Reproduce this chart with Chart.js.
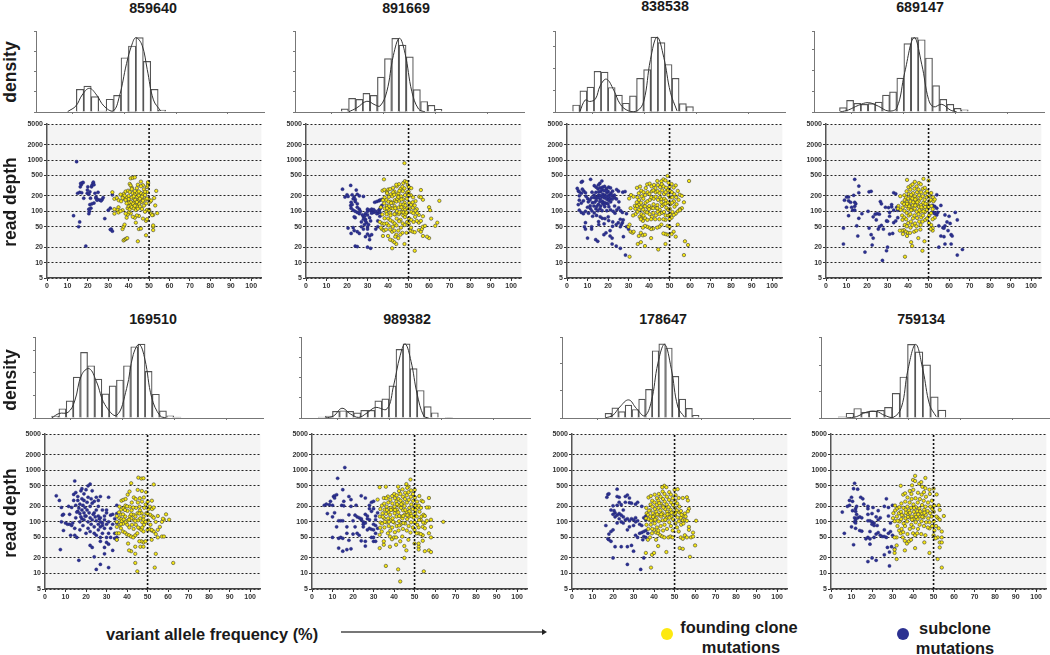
<!DOCTYPE html>
<html>
<head>
<meta charset="utf-8">
<title>variant allele frequency panels</title>
<script src="https://cdn.jsdelivr.net/npm/chart.js@4"></script>
<style>
  html, body { margin: 0; padding: 0; background: #fff; }
  body { position: relative; width: 1050px; height: 655px; overflow: hidden; font-family: "Liberation Sans", Arial, sans-serif; color: #1a1a1a; }
  canvas { position: absolute; }
  .label { position: absolute; font-weight: bold; white-space: nowrap; transform: translate(-50%, -50%); }
  .side { font-size: 17.5px; transform: translate(-50%, -50%) rotate(-90deg); }
  .title { font-size: 14.3px; }
  .note { font-size: 16.4px; }
  .dot { position: absolute; width: 12px; height: 12px; border-radius: 50%; }
</style>
</head>
<body>
<script>
// Panel names, in reading order
const sampleNames = ['859640', '891669', '838538', '689147', '169510', '989382', '178647', '759134'];

const xTicks = [0, 10, 20, 30, 40, 50, 60, 70, 80, 90, 100];
const depthTicks = [5, 10, 20, 50, 100, 200, 500, 1000, 2000, 5000];
const histXTicks = [0, 25, 50, 75, 100];

// Histogram bin centres and heights, density curve as [vaf, density]
const bins1 = [16, 19.6, 23.2, 26.8, 30.4, 34, 37.6, 41.2, 44.8, 48.4, 52, 55.6];
const heights1 = [1.12, 1.28, 0.76, 0.05, 0.63, 0.82, 2.68, 3.26, 3.67, 2.5, 1.12, 0.1];
const curve1 = [[10, 0.02], [14, 0.3], [17, 0.84], [20.5, 1.17], [24, 0.84], [27.5, 0.3], [32, 0.05], [35, 0.76], [38.5, 2.4], [41, 3.3], [43, 3.67], [46, 3.3], [48.5, 2.1], [51.5, 0.6], [55, 0.05]];
const bins2 = [18.7, 22.2, 25.7, 29.1, 32.6, 36.1, 39.5, 43, 46.5, 50, 53.4, 56.9, 60.4, 63.8];
const heights2 = [0.16, 0.67, 0.62, 0.92, 0.82, 1.72, 2.64, 3.64, 3.3, 2.72, 1.11, 0.52, 0.33, 0.13];
const curve2 = [[20.4, 0], [24.4, 0.2], [29.3, 0.53], [33.3, 0.35], [35.7, 0.3], [38.9, 1], [42.1, 2.8], [45, 3.64], [47.7, 2.9], [51, 1], [54.2, 0.15], [57.4, 0]];
const bins3 = [4.4, 7.9, 11.3, 14.7, 18.1, 21.5, 25, 28.4, 31.8, 35.2, 38.6, 42.1, 45.5, 48.9, 52.3, 55.8, 59.2];
const heights3 = [0.32, 0.97, 1.14, 1.86, 1.82, 1.12, 0.77, 0.4, 0.74, 1.54, 1.94, 3.42, 3.17, 2.17, 1.54, 0.38, 0.25];
const curve3 = [[6.1, 0], [8.8, 0.55], [10.9, 0.48], [13.7, 0.6], [16, 1.2], [19, 1.5], [22.5, 1], [25.7, 0.35], [29.7, 0.05], [33.8, 0.05], [37, 0.5], [40.2, 2.4], [43.4, 3.42], [46.6, 2.5], [49.8, 0.9], [53, 0.05]];
const bins4 = [8.2, 11.6, 15.1, 18.5, 22, 25.4, 28.9, 32.3, 35.8, 39.2, 42.7, 46.1, 49.6, 53, 56.5, 59.9, 63.4, 66.8];
const heights4 = [0.21, 0.56, 0.42, 0.37, 0.4, 0.48, 0.81, 0.97, 1.63, 3.29, 3.58, 3.48, 2.6, 1.27, 0.61, 0.37, 0.18, 0.11];
const curve4 = [[6.8, 0], [10.8, 0.1], [15.6, 0.32], [20.4, 0.45], [25.2, 0.28], [30, 0.05], [34.1, 0.2], [37.9, 1.9], [42.4, 3.58], [46.1, 2.3], [49.4, 0.6], [51.8, 0.25], [55.8, 0.37], [59.8, 0.1], [63, 0]];
const bins5 = [4.9, 8.4, 11.9, 15.3, 18.8, 22.2, 25.7, 29.2, 32.6, 36.1, 39.5, 43, 46.5, 49.9, 53.4, 56.8, 60.3, 63.8];
const heights5 = [0.09, 0.41, 0.76, 1.81, 2.9, 2.31, 1.72, 1.07, 1.42, 1.68, 2.31, 3.15, 3.27, 2.06, 1.05, 0.32, 0.1, 0.04];
const curve5 = [[3.2, 0], [6.8, 0.2], [11.1, 0.25], [14.3, 0.75], [17.6, 1.9], [21.3, 2.18], [24.8, 1.6], [28.8, 0.6], [34.5, 0.12], [39.3, 1.3], [42.5, 2.8], [45.4, 3.25], [48.1, 2.6], [51.4, 0.9], [55.4, 0.1], [58.6, 0]];
const bins6 = [4.75, 8.15, 11.55, 14.95, 18.35, 21.75, 25.15, 28.55, 31.95, 35.35, 38.75, 42.15, 45.55, 48.95, 52.35, 55.75, 59.15, 62.55, 65.95];
const heights6 = [0.05, 0.1, 0.33, 0.36, 0.33, 0.25, 0.38, 0.38, 0.85, 0.95, 1.59, 3.39, 3.66, 2.44, 1.36, 0.56, 0.26, 0, 0.03];
const curve6 = [[6.4, 0], [10.4, 0.1], [14.4, 0.48], [18.5, 0.2], [22.5, 0.03], [26.5, 0.25], [30.5, 0.52], [36.1, 0.45], [39.3, 1.6], [42.5, 3.1], [44.9, 3.66], [47.7, 2.8], [50.6, 1.2], [53.8, 0.1], [56.2, 0]];
const bins7 = [17.5, 20.8, 24, 27.2, 30.5, 33.7, 37, 40.2, 43.4, 46.7, 49.9, 53.2, 56.4, 59.6];
const heights7 = [0.17, 0.37, 0.23, 0.47, 0.31, 0.69, 1.04, 2.45, 2.7, 2.55, 1.52, 0.69, 0.35, 0.1];
const curve7 = [[15.9, 0], [19.7, 0.1], [23, 0.4], [27.3, 0.66], [31, 0.35], [35, 0.08], [38.2, 0.6], [41.4, 2], [44.6, 2.68], [47.8, 1.8], [51, 0.4], [54.2, 0.03]];
const bins8 = [5.4, 9.1, 12.8, 16.5, 20.2, 23.9, 27.6, 31.3, 35, 38.7, 42.4, 46.1, 49.8, 53.5];
const heights8 = [0.04, 0.18, 0.36, 0.21, 0.26, 0.29, 0.4, 0.93, 1.55, 2.78, 2.5, 2.01, 0.8, 0.3];
const curve8 = [[7.4, 0], [12.2, 0.05], [17, 0.22], [21.8, 0.25], [25.8, 0.1], [29.9, 0.02], [33.9, 0.4], [37, 1.8], [40.8, 2.78], [44.3, 1.8], [47.5, 0.5], [50.7, 0.05]];
const histMax = [4, 4, 3.7, 3.9, 3.58, 4, 2.95, 3.06];

// Subclone and founding clone mutations, [vaf, read depth]
const sub1 = [[14.5,930],[15,225],[16,235],[17,230],[16.3,300],[16.8,330],[17.3,360],[16.5,350],[17.7,365],[18,180],[20,300],[19.8,260],[19.7,225],[20.5,215],[21,240],[21.3,180],[21.8,300],[22,320],[22.5,350],[22.7,370],[23,330],[23.5,225],[24,190],[24,180],[25,235],[25,170],[26,165],[27,170],[27.5,185],[26.5,160],[24.5,165],[23,145],[22,140],[21,135],[21.5,115],[20.5,110],[20.5,90],[13,82],[16,62],[15.5,50],[19,21],[28.3,72],[30,105],[31,115],[31.5,45],[32,41],[31,44],[32,210],[20.8,100]];
const found1 = [[32,235],[33,175],[34.2,183],[35.1,164],[36.3,157],[37,205],[37.6,218],[38.2,171],[38.5,243],[39.1,188],[39.7,252],[40,199],[40.2,158],[40.5,342],[41,318],[41.6,287],[42,226],[42.3,178],[42.5,149],[43,212],[43.2,167],[43.5,134],[44,233],[44.2,191],[44.6,158],[45,203],[45.2,139],[45.5,124],[46,228],[46.3,179],[46.6,151],[47,322],[47.2,214],[47.5,129],[48,207],[48.2,172],[48.6,143],[49,298],[49.1,238],[49.5,352],[49.4,318],[50,166],[50.5,153],[51,162],[52.5,182],[53.5,250],[53,130],[54,92],[52,85],[51,90],[50,103],[49,106],[48,98],[47,72],[48.5,65],[49,70],[46.5,111],[45,81],[44,83],[43,75],[42,78],[41,91],[40,94],[39.5,86],[38.5,90],[37,105],[35,120],[34.5,106],[33,110],[33,90],[35,95],[36,101],[39,75],[39.5,115],[40,126],[40.5,109],[41,131],[41.5,121],[42,142],[42.5,114],[43.5,106],[44,124],[44.5,112],[45,168],[40,173],[38,202],[37,182],[41,152],[43,248],[44,283],[45,244],[46,308],[47.5,268],[48,241],[41,440],[42,450],[43,460],[44.5,330],[46,380],[49.5,370],[37,45],[37.5,50],[38,55],[43.5,60],[45,45],[46,46],[48.5,34],[52,43],[52,50],[52,53],[44.5,26],[37.5,27],[38,28],[38.7,29],[39.3,30],[40,146],[39,143],[38.5,166],[36,212],[41.5,187],[42.5,196],[46.5,193],[47,161],[49,178],[44,152],[43,128],[45.5,176],[40.5,238],[50,107],[51.5,84],[41.5,272]];

const sub2 = [[17.8,270],[19,190],[20,210],[20.5,195],[21.8,320],[22.5,210],[23.5,190],[24.5,260],[24,170],[25,215],[26,200],[28,195],[22,150],[21.8,130],[22,115],[23,175],[24,155],[25,140],[23,105],[24,100],[25,95],[26,90],[26,110],[24,75],[23.5,78],[28,78],[29,90],[30,100],[29,70],[29.5,60],[28.5,55],[30,50],[30.5,55],[31,75],[31.5,65],[32,100],[32,110],[33,95],[33,108],[34,100],[35,92],[35.5,105],[34.5,90],[33.5,150],[34.5,155],[35.5,160],[36,165],[37,170],[36.5,120],[36,80],[35,65],[35,50],[34,45],[20.5,47],[22,37],[23.5,42],[25,40],[26,37],[27,50],[28,45],[29,32],[30,36],[31,33],[32,35],[31,28],[24,21],[25,20.5],[30,20],[31.5,19],[23,48],[27,62],[28,70],[30,85],[32,92],[31,105],[30,110],[36,110],[36,95],[37,130],[29,65],[28.5,80],[30,45],[27.5,85],[22.5,135],[25,120],[26.5,100]];
const found2 = [[48,870],[38,420],[56,260],[65,160],[60,120],[60.5,105],[61,72],[64,60],[63,52],[60,30],[59,32],[57,33],[53,17],[48,23],[42,19],[44,23],[43,25],[42,27],[41,28],[45,30],[47,38],[49,38],[51,42],[52,40],[53,39],[55,43],[56,40],[56.5,45],[57,50],[58,52],[55,60],[54,65],[56,65],[57,80],[55,85],[54,110],[37.3,252],[38.2,263],[39.4,238],[40.1,266],[41.3,214],[42.4,287],[43.1,243],[44.2,307],[45.3,338],[46.1,274],[47.4,356],[48.2,388],[49.1,372],[49.6,327],[50.2,296],[51.3,283],[51.1,206],[52.2,187],[53.4,158],[55.2,193],[57,168],[56,188],[38.3,186],[39.2,166],[40.4,191],[41.2,154],[42.1,196],[43.3,164],[44.4,211],[45.1,226],[46.4,196],[47.2,246],[48.3,207],[49.3,235],[50.1,204],[38.1,143],[39.4,127],[40.2,154],[41.4,116],[42.3,146],[43.2,126],[44.1,155],[45.4,161],[46.2,136],[47.3,172],[48.1,147],[49.2,176],[50.3,146],[51.2,134],[52.1,117],[53.3,103],[54.2,92],[38.4,113],[39.1,97],[40.3,108],[41.1,92],[42.4,113],[43.4,87],[44.3,101],[45.2,119],[46.3,97],[47.1,112],[48.4,108],[49.4,116],[50.4,113],[51.4,97],[52.3,92],[53.2,78],[37.2,87],[38.3,73],[39.3,88],[40.1,72],[41.2,83],[42.2,63],[43.1,88],[44.2,72],[45.3,88],[46.1,68],[47.4,83],[48.2,77],[49.1,93],[50.2,73],[51.3,68],[52.4,62],[37.1,58],[38.2,57],[39.4,58],[40.3,53],[41.1,67],[42.3,50],[43.2,58],[44.1,53],[45.4,64],[46.3,48],[47.2,58],[48.1,54],[49.3,62],[50.1,57],[51.2,48],[37,45],[38,42],[39,44],[37.5,33],[40,33],[42,40],[43,42],[44,35],[45,42],[46,35],[43.5,32],[41,44],[39.5,225],[42.5,235],[44.5,175],[46.5,170],[47.5,135],[48.5,130],[43.5,115],[41.5,145],[40.5,125],[45.5,95],[46.5,120],[47.5,95],[48.5,88],[39.5,115],[37.5,165],[36.5,120],[36,62],[36.5,48],[44,330],[45.5,250],[47,300],[48,280],[50,240],[52,150],[53,130],[41,270],[43,210],[45,190],[49,95]];

const sub3 = [[7.5,385],[7,370],[11.5,420],[17,390],[16,350],[5,280],[5.5,250],[6,240],[7,225],[5.5,135],[6,105],[7,95],[8,90],[9,100],[9,60],[8.5,50],[9,45],[10,30],[12,45],[12,50],[14,28],[15,26],[19,38],[18,35],[21,42],[21,33],[22,23],[24,21],[26,19],[28.5,14],[27.5,32],[22,30],[26,50],[27,60],[29,90],[27,95],[26,70],[25,60],[24,55],[8.2,247],[9.3,196],[10.1,176],[10.4,153],[11.2,167],[11.3,128],[11.4,113],[12.2,236],[12.4,147],[12.1,102],[13.3,316],[13.2,206],[13.4,184],[13.1,127],[13.3,93],[14.2,296],[14.1,234],[14.4,187],[14.3,163],[14.1,112],[14.4,83],[15.3,326],[15.1,274],[15.4,207],[15.2,184],[15.3,137],[15.1,103],[15.4,63],[16.2,287],[16.4,243],[16.1,202],[16.3,174],[16.4,127],[16.1,113],[16.2,78],[17.3,296],[17.1,264],[17.4,217],[17.2,193],[17.3,157],[17.4,143],[17.1,103],[17.2,73],[18.3,306],[18.1,254],[18.4,206],[18.2,183],[18.3,147],[18.4,123],[18.1,57],[19.2,276],[19.4,233],[19.1,197],[19.3,173],[19.2,143],[19.4,103],[20.3,296],[20.1,243],[20.4,207],[20.2,187],[20.3,164],[20.4,123],[20.1,78],[21.2,286],[21.4,224],[21.1,177],[21.3,153],[21.2,107],[20.3,66],[22.2,247],[22.4,197],[22.1,173],[22.3,62],[22.2,51],[23.1,207],[23.3,183],[23.2,127],[23.4,92],[24.2,266],[24.1,174],[24.3,107],[25.1,247],[25.3,153],[25.2,117],[26.1,103],[27.2,236],[28.3,243],[27.4,68],[26.5,55],[29,50],[30,45],[22.5,100],[18.5,72],[15.5,55],[12.5,80],[10.5,92],[8,160],[7,145],[6,165],[6,200],[7.5,270],[9,230],[10,120],[12,185],[16,155],[18,135],[20,140],[14.5,125],[13.5,150],[15.5,240],[19.5,250],[21.5,205]];
const found3 = [[59.5,390],[57.5,26],[59,22],[57,14],[30.5,13],[44.5,18],[48,23],[38,21],[34.5,23],[36,25],[31,40],[32,38],[30,50],[30.5,55],[32.5,40],[54,55],[49,490],[47,420],[48,400],[46,385],[44,390],[49.5,360],[51,340],[53,320],[50,300],[52,290],[54,250],[55,210],[56,200],[57,150],[56,115],[55,110],[54,100],[53,90],[52,85],[51,75],[50,70],[49,52],[50,50],[48,68],[47,70],[52,40],[51,36],[49,35],[53,32],[48,36],[47,37],[46,55],[45,50],[44,48],[42,46],[41,45],[40,48],[39,50],[38,52],[37,48],[36,38],[37,34],[35,33],[41,30],[38,35],[30.3,178],[31.2,208],[32.4,193],[33.1,128],[33.3,112],[33.4,88],[32.2,83],[34.1,287],[35.6,304],[36.2,252],[37.3,236],[38.4,284],[39.1,335],[40.3,347],[41.2,306],[42.4,327],[43.1,284],[44.3,326],[45.4,296],[46.2,337],[47.1,306],[48.3,287],[49.2,256],[50.4,247],[51.1,236],[52.3,216],[53.2,187],[54.4,167],[34.3,187],[35.1,167],[36.4,197],[37.2,176],[38.1,207],[39.3,236],[40.2,217],[41.4,247],[42.1,256],[43.3,236],[44.2,246],[45.1,226],[46.4,256],[47.3,217],[48.1,236],[49.4,207],[50.2,186],[51.3,187],[52.1,157],[53.4,137],[34.2,127],[35.3,137],[36.1,147],[37.4,127],[38.3,147],[39.2,157],[40.4,167],[41.1,187],[42.3,176],[43.2,192],[44.4,167],[45.3,187],[46.1,172],[47.4,176],[48.2,162],[49.1,147],[50.3,137],[51.2,147],[52.4,123],[34.4,98],[35.2,108],[36.3,88],[37.1,108],[38.2,98],[39.4,117],[40.1,127],[41.3,117],[42.2,137],[43.4,117],[44.1,132],[45.2,107],[46.3,127],[47.2,137],[48.4,117],[49.3,107],[50.1,112],[51.4,97],[35.4,78],[36.2,73],[37.3,83],[38.1,73],[39.2,68],[40.3,88],[41.4,78],[42.1,93],[43.3,83],[44.2,98],[45.1,88],[46.4,93],[47.3,97],[48.1,83],[49.4,83],[50.2,88],[39,95],[41,70],[43,70],[45,70],[37,65],[36,70],[55,105],[40,110],[42,115],[44,115],[38,125],[36,120],[46,150],[48,140],[35,225],[34,150],[31,115]];

const sub4 = [[14,420],[16,310],[16,230],[21,240],[22,245],[33,230],[34,220],[10,190],[11,190],[9,165],[11,160],[12,150],[13.5,205],[14,150],[14.5,140],[14,125],[12.5,120],[10,120],[13,105],[14,105],[11,82],[16,73],[17.5,90],[20.5,100],[23,78],[24,88],[25,90],[26,88],[24.5,68],[26,50],[25.5,45],[27,53],[28,45],[15,52],[21,47],[22,35],[23,30],[8.5,47],[15.5,33],[8.5,23],[22.5,22],[19,16],[27.5,11],[29.5,17],[30,20],[31,36],[32.5,37],[29.5,65],[30,64],[30.5,118],[31,80],[32,122],[32,135],[33,105],[33,60],[34,65],[35,105],[35,75],[26.5,155],[27,140],[54,210],[52,130],[53,125],[54,115],[52.5,95],[53,90],[54,85],[54.5,95],[56,130],[58,85],[60,80],[59,62],[60.5,58],[63,95],[64,68],[55,52],[57,48],[58,52],[57.5,47],[56,33],[57.5,32],[59.5,42],[61,35],[61.5,33],[58,23],[61,23],[55,20],[64,14],[66.5,18],[29,120],[31,95],[34.5,120]];
const found4 = [[39.5,410],[47.5,430],[50,400],[38.5,13],[47,17],[42,21],[41.5,25],[48,26],[45,30],[38,43],[37,42],[36,42],[39,40],[40,38],[41,38],[43,40],[44,42],[46,44],[52,42],[52,47],[37.5,36],[39.5,33],[36.2,197],[35.3,127],[35.1,113],[36.4,107],[37.2,147],[37.4,118],[37.1,83],[37.3,68],[38.2,206],[38.4,166],[38.1,138],[38.3,102],[38.2,76],[38.4,54],[39.3,246],[39.1,186],[39.4,152],[39.2,127],[39.3,93],[39.1,70],[39.4,51],[40.2,296],[40.4,216],[40.1,178],[40.3,136],[40.2,113],[40.4,83],[40.1,59],[41.3,316],[41.1,264],[41.4,186],[41.2,156],[41.3,123],[41.1,88],[41.4,63],[41.2,48],[42.2,336],[42.4,226],[42.1,178],[42.3,132],[42.2,107],[42.4,73],[42.1,54],[43.3,376],[43.1,276],[43.4,196],[43.2,153],[43.3,113],[43.1,83],[43.4,58],[44.2,306],[44.4,236],[44.1,177],[44.3,133],[44.2,98],[44.4,74],[44.1,51],[45.3,356],[45.1,266],[45.4,206],[45.2,157],[45.3,123],[45.1,88],[45.4,63],[46.2,336],[46.4,236],[46.1,178],[46.3,132],[46.2,98],[46.4,76],[46.1,54],[47.3,276],[47.1,197],[47.4,147],[47.2,117],[47.3,83],[47.1,63],[48.2,287],[48.4,226],[48.1,167],[48.3,122],[48.2,97],[48.4,68],[49.3,246],[49.1,187],[49.4,137],[49.2,107],[49.3,73],[50.2,197],[50.4,157],[50.1,122],[50.3,83],[50.2,59],[51.3,227],[51.1,167],[51.4,127],[51.2,92],[51.3,54],[52.2,187],[52.4,157],[53,170],[52,110],[53,75],[52,70],[51,45],[43.5,130],[44.5,150],[42.5,150],[41.5,105],[40.5,125],[39.5,140],[46.5,120],[47.5,100],[48.5,140],[45.5,105],[43.5,170],[41.5,210]];

const sub5 = [[14.5,620],[5.5,320],[7,260],[7.5,29],[16.5,18],[24,21],[25,12],[27,15],[31,13],[29,24],[11.5,200],[8,190],[8.5,135],[9,140],[8,100],[9,68],[10,95],[11,90],[12,140],[12,90],[13,85],[12.5,55],[13,190],[14,260],[14,340],[15,370],[15,210],[15,120],[14.5,75],[14.5,55],[15.5,50],[16,160],[16,260],[16,310],[16.5,185],[17,220],[17,145],[17,100],[17,70],[17.5,400],[18,170],[18,280],[18,440],[18,115],[18.5,210],[18.5,85],[19,150],[19,350],[19,260],[19,110],[19.5,190],[20,130],[20,420],[20,60],[20.5,170],[20.5,240],[21,100],[21,300],[21,500],[21,75],[21.5,150],[22,540],[22,120],[22,200],[22,65],[22.5,280],[22.5,90],[22,35],[23,110],[23,230],[23,400],[23,32],[24,150],[24,250],[24,80],[24,60],[25,105],[25,170],[25,300],[25,55],[26,90],[26,70],[26,200],[26,260],[26,130],[27,100],[27,120],[27,310],[27,80],[27,50],[27,42],[28,85],[28,170],[28,95],[28,60],[29,110],[29,130],[29,75],[29,32],[30,150],[30,170],[30,90],[30,50],[30,40],[31,300],[31,100],[31,60],[31,37],[32,135],[32,75],[32,50],[33,140],[33,90],[33,28],[34,115],[34,60],[35,210],[35,145],[35,95],[35,50],[35,45],[34,48],[23.5,140],[17.5,125],[19.5,130],[15.5,155],[13.5,95],[26.5,115],[24.5,125]];
const found5 = [[45.5,720],[47,690],[48,700],[53,530],[42,560],[62.5,16],[45,11],[44,16],[53.5,13],[54,24],[44,24],[42,27],[41,28],[40.5,38],[44,33],[46.5,33],[48,40],[49,42],[47,42],[46,42],[52,45],[48,33],[52,68],[53,65],[55,70],[56,80],[54,58],[55,50],[57,52],[58,52],[59,140],[58,110],[57,100],[60.5,110],[57.5,115],[35,45],[35,60],[36,60],[37,75],[38,65],[39,62],[40,57],[41,55],[42,52],[43,50],[44,55],[45,60],[46,75],[47,70],[48,65],[50,70],[51,72],[52,70],[36.2,118],[36.4,88],[36.1,153],[36.3,197],[37.2,113],[37.4,103],[37.1,138],[37.3,257],[37.2,173],[38.4,112],[38.1,92],[38.3,183],[38.2,267],[39.4,98],[39.1,127],[39.3,277],[39.2,207],[40.1,88],[40.4,107],[40.2,163],[40.3,337],[41.4,127],[41.1,78],[41.3,197],[41.2,387],[42.1,117],[42.4,88],[42.2,167],[42.3,237],[43.4,107],[43.1,137],[43.3,297],[43.2,73],[44.1,127],[44.4,187],[44.2,277],[44.3,88],[45.4,107],[45.1,147],[45.3,237],[45.2,417],[45.4,78],[46.1,197],[46.4,117],[46.2,287],[46.3,167],[47.4,98],[47.1,147],[47.3,247],[47.2,397],[47.4,78],[48.1,127],[48.4,187],[48.2,297],[48.3,88],[49.4,147],[49.1,217],[49.3,377],[50.2,107],[50.4,177],[50.1,247],[51.3,137],[51.1,197],[51.4,88],[52.2,177],[52.4,127],[52.1,257],[53,190],[53,120],[54,100],[55,130],[35,100],[35,80],[35,130],[38,140],[40,200],[42,140],[44,105],[46,145],[48,110],[50,145],[49,100],[43,190],[41,110],[39,170],[37,90]];

const sub6 = [[16,1130],[12.5,700],[15,420],[6,210],[7,220],[9,250],[8.5,215],[10,210],[10.5,310],[11,320],[12,335],[11,290],[14.5,210],[15.5,250],[15.5,205],[18,310],[19,270],[19,200],[21.5,210],[24,320],[26,290],[7.5,145],[10,125],[11,150],[13,105],[14,105],[15,105],[12,80],[13,48],[14,50],[15,48],[10,50],[17,80],[17,60],[18,44],[18,137],[20,105],[21,135],[22,125],[23,120],[24,110],[25,100],[25,90],[26,95],[26,140],[27,130],[27,115],[22,60],[23,55],[24,43],[26,42],[26,34],[27,70],[28,75],[28,110],[28,180],[28,210],[29,160],[29,240],[30,250],[30,180],[29,72],[30,90],[30,70],[31,85],[31,110],[31,130],[31,60],[30,50],[30,42],[31,42],[13,31],[15,27],[17,29],[19,30],[20,58],[29,50],[32,150],[32,75],[24,115],[25,80],[21,80]];
const found6 = [[48,660],[46,540],[47,480],[42,480],[33,470],[36,480],[32,270],[35,290],[37,310],[64,100],[58,110],[57,290],[57,190],[58,50],[56,190],[58,80],[57,60],[54,55],[54,43],[52,33],[52,29],[55,27],[57,28],[58,26],[52,38],[50,38],[47,45],[46,28],[45,34],[43,42],[41,36],[38,33],[33,31],[35,36],[36,14],[42,12],[43,7],[54.5,11],[45,20],[33,56],[34,65],[35,42],[37,60],[38,52],[39,46],[40,50],[41,50],[44,52],[48,62],[50,70],[52,78],[54,80],[55,95],[56,105],[53,110],[33.2,77],[33.4,97],[33.1,127],[33.3,177],[34.2,93],[34.4,147],[34.1,207],[35.3,78],[35.1,118],[35.4,172],[35.2,226],[36.3,98],[36.1,143],[36.4,197],[36.2,287],[37.4,83],[37.1,117],[37.3,157],[37.2,237],[38.2,68],[38.4,107],[38.1,137],[38.3,187],[38.2,267],[39.1,78],[39.3,117],[39.4,173],[39.2,227],[39.1,317],[40.4,63],[40.1,97],[40.3,147],[40.2,197],[40.4,287],[40.1,347],[41.3,83],[41.2,127],[41.4,172],[41.1,247],[41.3,327],[42.2,68],[42.4,103],[42.1,153],[42.3,207],[42.2,277],[42.4,397],[43.1,88],[43.3,127],[43.4,187],[43.2,257],[43.1,347],[44.3,73],[44.1,117],[44.4,167],[44.2,233],[44.3,307],[44.1,427],[45.4,93],[45.2,137],[45.1,203],[45.3,277],[45.4,367],[46.2,68],[46.4,113],[46.1,157],[46.3,237],[46.2,327],[46.4,457],[47.1,83],[47.3,127],[47.4,187],[47.2,267],[47.1,377],[48.3,98],[48.1,147],[48.4,217],[48.2,307],[48.3,407],[49.2,78],[49.4,122],[49.1,177],[49.3,257],[49.2,347],[50.1,98],[50.3,147],[50.4,207],[50.2,297],[50.1,417],[51.3,88],[51.1,127],[51.4,187],[51.2,247],[52.2,108],[52.4,157],[52.1,207],[52.3,317],[53.3,127],[53.1,187],[53.4,257],[54.2,97],[54.4,137],[54.1,247],[55,130],[55,75],[52,60],[51,60],[53,58],[44.5,130],[42.5,130],[40.5,170],[38.5,170],[36.5,170],[34.5,125],[46.5,135],[48.5,130],[50.5,170],[43.5,220],[41.5,220],[45.5,170],[47.5,160],[39.5,100],[37.5,100],[35.5,100],[42.5,85],[44.5,95]];

const sub7 = [[17,300],[17.5,340],[18,350],[22,430],[20,205],[22,210],[23,240],[24,215],[22,310],[23,300],[25,170],[26,310],[27,330],[28,290],[26,240],[28,235],[29,230],[31,220],[32,240],[34,200],[20,140],[21,125],[21,150],[22,135],[23,145],[24,135],[23,115],[22,95],[24,100],[25,125],[26,110],[27,115],[28,105],[29,115],[30,110],[31,100],[31,120],[32,105],[33,90],[34,85],[35,120],[36,110],[25,95],[28,80],[27,70],[30,85],[16.5,85],[18,58],[19,65],[20,70],[17.5,47],[18,45],[19,42],[21,33],[24,33],[27,33],[29,35],[30,27],[31,55],[32,50],[33,60],[34,62],[35,65],[36,68],[35,52],[34.5,45],[36,50],[37,60],[20,20],[27,15],[33.5,12],[35,20],[19,170],[20.5,165],[36,130]];
const found7 = [[45,500],[46,470],[44,470],[50,420],[51.5,430],[50.5,330],[52,290],[54,290],[56,300],[56.5,260],[60.5,105],[57,180],[56.5,160],[55,145],[54,130],[53,120],[57,80],[57,70],[59,62],[60,35],[57.5,21],[55,55],[58,50],[59,52],[56,50],[53,50],[54,47],[52.5,31],[54,30],[46,26],[42,34],[38.5,13],[36,25],[39,23],[40,25],[41,45],[37,45],[38,50],[39,60],[40,70],[41,62],[42,60],[43,55],[44,52],[45,50],[47,50],[48,52],[49,50],[52,65],[36.3,88],[36.1,117],[36.4,147],[36.2,187],[37.2,73],[37.4,112],[37.1,137],[37.3,297],[38.4,88],[38.2,127],[38.1,167],[38.3,217],[38.4,317],[39.1,73],[39.3,107],[39.4,147],[39.2,197],[39.1,257],[40.3,93],[40.1,132],[40.4,177],[40.2,237],[40.3,337],[41.4,78],[41.2,117],[41.1,157],[41.3,212],[41.4,287],[42.1,68],[42.3,102],[42.4,137],[42.2,187],[42.1,257],[42.3,347],[43.2,83],[43.4,127],[43.1,167],[43.3,227],[43.2,307],[44.4,68],[44.2,107],[44.1,147],[44.3,202],[44.4,277],[44.2,387],[45.1,88],[45.3,132],[45.4,177],[45.2,247],[45.1,347],[46.3,73],[46.1,117],[46.4,157],[46.2,217],[46.3,307],[47.4,98],[47.2,142],[47.1,192],[47.3,267],[47.4,377],[48.2,83],[48.4,127],[48.1,172],[48.3,237],[48.2,337],[49.1,68],[49.3,112],[49.4,152],[49.2,212],[49.1,287],[50.4,93],[50.2,137],[50.1,187],[50.3,257],[51.2,78],[51.4,122],[51.1,167],[51.3,227],[52.1,103],[52.3,152],[52.4,197],[53.2,88],[53.4,137],[53.1,162],[54.3,93],[54.1,107],[55.2,108],[55.4,127],[56,105],[43.5,140],[41.5,140],[39.5,125],[37.5,165],[45.5,110],[47.5,120],[44.5,190],[42.5,230],[46.5,140],[48.5,150],[40.5,110],[38.5,105],[50.5,150]];

const sub8 = [[11.5,560],[11,440],[13,430],[14.5,300],[15.5,280],[10,300],[9,260],[10.5,250],[5.5,155],[8,200],[9,210],[10.5,165],[12,180],[12.5,200],[12,160],[12.5,140],[16,220],[18,200],[18,180],[20.5,190],[20,145],[18,140],[23,165],[24,120],[23,110],[22,125],[27,280],[26,200],[28,190],[28,130],[11.5,120],[13,120],[14,125],[15,120],[12,110],[11.5,100],[12,95],[10,80],[12,75],[6.5,60],[14,68],[15,66],[18,105],[19,105],[20,100],[21,95],[20,90],[21,85],[22.5,85],[19,65],[21,50],[18,50],[17,47],[19,47],[22,58],[23,62],[24,55],[25,52],[26,70],[27,50],[26,52],[28,60],[29,65],[30,55],[11,36],[19,37],[27.5,32],[29.5,33],[28.5,26],[26,23],[20,20],[22,18],[18,17],[28.5,14],[31,30],[30,210],[29,95]];
const found8 = [[41,780],[40,650],[41,620],[46,710],[34,500],[39.5,510],[43,550],[44,590],[44.5,480],[46,450],[48,420],[50,440],[51.5,340],[52.5,210],[55,130],[53,170],[52,120],[53,110],[52.5,75],[54,65],[52,50],[54,50],[53,40],[54,40],[53,32],[54,13],[52,19],[48,25],[45.5,40],[41,31],[36,28],[32,19],[31,25],[31,29],[32,35],[32,50],[31,50],[34,60],[35,50],[36,43],[37,38],[38,42],[39,45],[40,60],[41,55],[42,60],[44,58],[46,55],[48,75],[50,55],[51,48],[30.2,118],[30.4,147],[31.1,103],[31.3,167],[31.2,207],[32.4,83],[32.1,127],[32.3,182],[33.2,68],[33.4,102],[33.1,147],[33.3,192],[34.4,73],[34.2,113],[34.1,157],[34.3,227],[35.2,63],[35.4,93],[35.1,132],[35.3,187],[35.2,337],[36.1,83],[36.3,117],[36.4,172],[36.2,247],[36.1,357],[37.3,58],[37.1,102],[37.4,142],[37.2,197],[37.3,297],[38.4,73],[38.2,122],[38.1,167],[38.3,237],[38.4,397],[39.2,88],[39.4,127],[39.1,187],[39.3,277],[39.2,347],[40.1,78],[40.3,113],[40.4,157],[40.2,217],[40.1,417],[41.3,98],[41.1,137],[41.4,192],[41.2,287],[42.4,73],[42.2,113],[42.1,162],[42.3,237],[42.4,367],[43.2,88],[43.4,127],[43.1,182],[43.3,277],[44.1,103],[44.3,147],[44.4,212],[44.2,337],[45.3,83],[45.1,122],[45.4,172],[45.2,257],[45.3,377],[46.4,98],[46.2,137],[46.1,197],[46.3,307],[47.2,78],[47.4,117],[47.1,162],[47.3,237],[48.1,98],[48.3,147],[48.4,197],[48.2,347],[49.3,83],[49.1,127],[49.4,177],[49.2,257],[50.4,68],[50.2,103],[50.1,157],[50.3,207],[51.2,83],[51.4,127],[37.5,125],[39.5,110],[41.5,125],[43.5,160],[45.5,150],[40.5,185],[42.5,140],[44.5,125],[36.5,150],[34.5,135],[32.5,105],[38.5,150]];

const histBins = [bins1, bins2, bins3, bins4, bins5, bins6, bins7, bins8];
const histHeights = [heights1, heights2, heights3, heights4, heights5, heights6, heights7, heights8];
const densityCurves = [curve1, curve2, curve3, curve4, curve5, curve6, curve7, curve8];
const subclones = [sub1, sub2, sub3, sub4, sub5, sub6, sub7, sub8];
const founding = [found1, found2, found3, found4, found5, found6, found7, found8];

// Layout of the panels on the page
const plotLeft = [47, 306, 567, 826, 45, 312, 572, 831];
const plotRight = [264, 524, 785, 1044, 263, 530, 790, 1049];
const histLeft = [36, 295, 555, 814, 35, 301, 562, 821];
const titleX = [153, 406, 665, 920, 153, 407, 663, 921];
const titleY = [8, 8, 6, 7, 319, 319, 319, 319];
const rows = [
    { histTop: 31, histBase: 112, top: 124, bottom: 278 },
    { histTop: 337, histBase: 418, top: 434, bottom: 589 }
];

function addCanvas(left, top, width, height) {
    const canvas = document.createElement('canvas');
    canvas.width = width;
    canvas.height = height;
    canvas.style.left = left + 'px';
    canvas.style.top = top + 'px';
    canvas.style.width = width + 'px';
    canvas.style.height = height + 'px';
    document.body.appendChild(canvas);
    return canvas;
}

function addLabel(text, x, y, className) {
    const el = document.createElement('div');
    el.className = 'label ' + className;
    el.textContent = text;
    el.style.left = x + 'px';
    el.style.top = y + 'px';
    document.body.appendChild(el);
}

const plotBackground = {
    id: 'plotBackground',
    beforeDraw(chart) {
        const a = chart.chartArea;
        chart.ctx.fillStyle = '#f4f4f4';
        chart.ctx.fillRect(a.left, a.top, a.right - a.left, a.bottom - a.top);
    }
};

function toPoints(pairs) {
    return pairs.map(p => ({ x: p[0], y: p[1] }));
}

function drawHistogram(i) {
    const row = rows[i < 4 ? 0 : 1];
    const width = plotRight[i] - histLeft[i] + 6;
    const height = row.histBase - row.histTop + 7;
    const canvas = addCanvas(histLeft[i] - 5, row.histTop - 3, width, height);
    const unit = (plotRight[i] - plotLeft[i]) / 105;
    new Chart(canvas.getContext('2d'), {
        type: 'bar',
        data: {
            datasets: [
                {
                    type: 'line',
                    data: toPoints(densityCurves[i]),
                    borderColor: '#333',
                    borderWidth: 1,
                    tension: 0.4,
                    pointRadius: 0,
                    order: 0
                },
                {
                    data: histBins[i].map((b, k) => ({ x: b, y: histHeights[i][k] })),
                    backgroundColor: '#fff',
                    borderColor: '#555',
                    borderWidth: 1.2,
                    barPercentage: 1,
                    categoryPercentage: 1,
                    order: 1
                }
            ]
        },
        options: {
            responsive: false,
            animation: false,
            layout: { padding: { top: 3, right: 1, left: 0, bottom: 0 } },
            plugins: { legend: { display: false }, tooltip: { enabled: false } },
            scales: {
                x: {
                    type: 'linear',
                    offset: false,
                    min: -(plotLeft[i] - histLeft[i]) / unit,
                    max: 105,
                    afterBuildTicks: axis => { axis.ticks = histXTicks.map(v => ({ value: v })); },
                    afterFit: axis => { axis.height = 4; },
                    ticks: { display: false },
                    grid: { drawOnChartArea: false, color: '#777', tickLength: 2 },
                    border: { color: '#777', width: 1 }
                },
                y: {
                    min: 0,
                    max: histMax[i],
                    afterFit: axis => { axis.width = 5; },
                    ticks: { display: false, stepSize: 1 },
                    grid: { drawOnChartArea: false, color: '#777', tickLength: 2 },
                    border: { color: '#777', width: 1 }
                }
            }
        }
    });
}

function drawScatter(i) {
    const row = rows[i < 4 ? 0 : 1];
    const width = plotRight[i] - plotLeft[i] + 30 + 2;
    const height = row.bottom - row.top + 5 + 16;
    const canvas = addCanvas(plotLeft[i] - 30, row.top - 5, width, height);
    const tickFont = { family: '"Liberation Sans", Arial, sans-serif', size: 7, weight: 'bold' };
    new Chart(canvas.getContext('2d'), {
        type: 'scatter',
        data: {
            datasets: [
                {
                    type: 'line',
                    data: [{ x: 50, y: 5 }, { x: 50, y: 5000 }],
                    borderColor: '#111',
                    borderWidth: 1.6,
                    borderDash: [2, 2],
                    pointRadius: 0,
                    order: 0
                },
                {
                    data: toPoints(founding[i]),
                    backgroundColor: '#f6e712',
                    borderColor: '#3f3f30',
                    borderWidth: 0.6,
                    pointRadius: 1.7,
                    order: 1
                },
                {
                    data: toPoints(subclones[i]),
                    backgroundColor: '#2c3191',
                    borderColor: '#23276e',
                    borderWidth: 0.4,
                    pointRadius: 1.6,
                    order: 2
                }
            ]
        },
        options: {
            responsive: false,
            animation: false,
            layout: { padding: { top: 5, right: 2, left: 0, bottom: 0 } },
            plugins: { legend: { display: false }, tooltip: { enabled: false } },
            scales: {
                x: {
                    type: 'linear',
                    min: 0,
                    max: 105,
                    afterBuildTicks: axis => { axis.ticks = xTicks.map(v => ({ value: v })); },
                    afterFit: axis => { axis.height = 16; },
                    ticks: { font: tickFont, color: '#333', padding: 1, maxRotation: 0, autoSkip: false },
                    grid: { drawOnChartArea: false, color: '#333', tickLength: 3 },
                    border: { color: '#444', width: 1.5 }
                },
                y: {
                    type: 'logarithmic',
                    min: 5,
                    max: 5000,
                    afterBuildTicks: axis => { axis.ticks = depthTicks.map(v => ({ value: v })); },
                    afterFit: axis => { axis.width = 30; },
                    ticks: { font: tickFont, color: '#333', padding: 1, autoSkip: false, callback: v => String(v) },
                    grid: { color: '#222', lineWidth: 1, tickColor: '#333', tickLength: 3 },
                    border: { color: '#555', width: 1.5, dash: [2, 2] }
                }
            }
        },
        plugins: [plotBackground]
    });
}

sampleNames.forEach((name, i) => {
    drawHistogram(i);
    drawScatter(i);
    addLabel(name, titleX[i], titleY[i], 'title');
});

addLabel('density', 10, 72, 'side');
addLabel('read depth', 10, 202, 'side');
addLabel('density', 10, 380, 'side');
addLabel('read depth', 10, 513, 'side');

addLabel('variant allele frequency (%)', 212, 634, 'note');
addLabel('founding clone', 739, 627, 'note');
addLabel('mutations', 741, 647, 'note');
addLabel('subclone', 955, 628, 'note');
addLabel('mutations', 955, 648, 'note');

// Arrow under the panels and the two legend dots
const arrow = document.createElement('div');
arrow.style.cssText = 'position:absolute;left:341px;top:631px;width:202px;height:2px;background:#777;';
document.body.appendChild(arrow);
const arrowHead = document.createElement('div');
arrowHead.style.cssText = 'position:absolute;left:542px;top:629px;border-left:5px solid #222;border-top:3px solid transparent;border-bottom:3px solid transparent;';
document.body.appendChild(arrowHead);

[[661, 628, '#fde910'], [897, 628, '#2c3191']].forEach(d => {
    const dot = document.createElement('div');
    dot.className = 'dot';
    dot.style.left = d[0] + 'px';
    dot.style.top = d[1] + 'px';
    dot.style.background = d[2];
    document.body.appendChild(dot);
});
</script>
</body>
</html>
